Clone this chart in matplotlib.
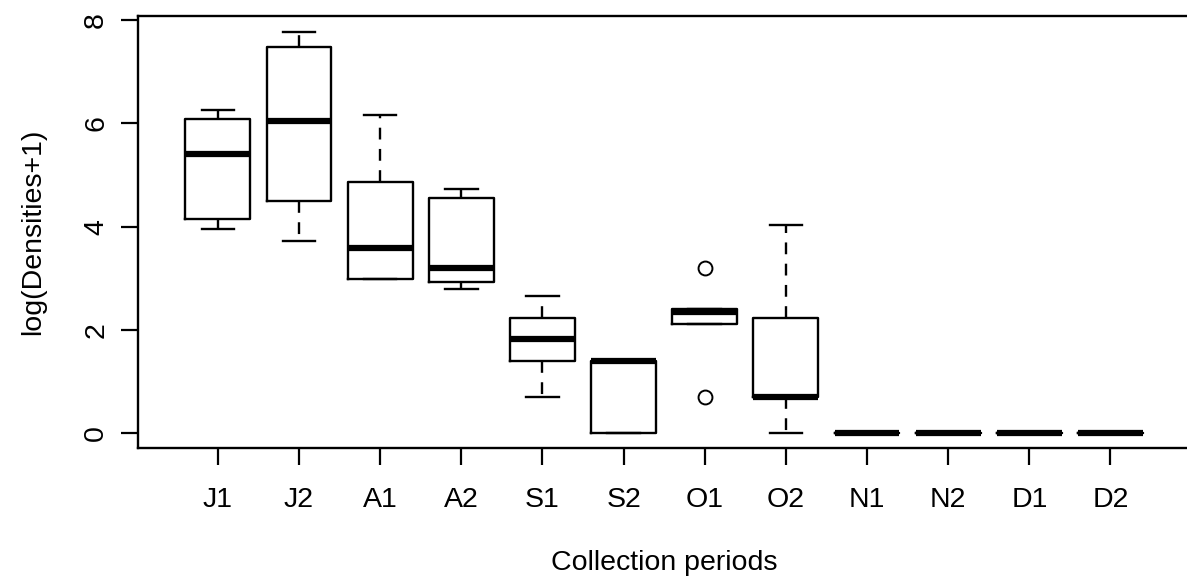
import matplotlib
matplotlib.use("Agg")
import matplotlib.pyplot as plt

periods = ["J1", "J2", "A1", "A2", "S1", "S2", "O1", "O2", "N1", "N2", "D1", "D2"]
whislo = [3.96, 3.73, 2.99, 2.79, 0.70, 0.00, 2.11, 0.00, 0, 0, 0, 0]
q1 = [4.15, 4.49, 2.99, 2.93, 1.40, 0.00, 2.11, 0.69, 0, 0, 0, 0]
med = [5.41, 6.05, 3.59, 3.20, 1.82, 1.39, 2.34, 0.69, 0, 0, 0, 0]
q3 = [6.09, 7.48, 4.87, 4.55, 2.23, 1.39, 2.40, 2.22, 0, 0, 0, 0]
whishi = [6.26, 7.77, 6.16, 4.72, 2.66, 1.39, 2.40, 4.03, 0, 0, 0, 0]
outliers = [[], [], [], [], [], [], [3.20, 0.70], [], [], [], [], []]

plt.rcParams["font.family"] = ["Liberation Sans", "DejaVu Sans"]

stats = []
for i, name in enumerate(periods):
    stats.append({
        "label": name, "whislo": whislo[i], "q1": q1[i], "med": med[i],
        "q3": q3[i], "whishi": whishi[i], "fliers": outliers[i],
    })

fig = plt.figure(figsize=(11.87, 5.77), dpi=100)
ax = fig.add_axes([138.3 / 1187, 1 - 448 / 577, (1190 - 138.3) / 1187, (448 - 16) / 577])

ax.bxp(
    stats, positions=range(1, len(periods) + 1), widths=0.8,
    boxprops=dict(color="black", linewidth=1.7),
    medianprops=dict(color="black", linewidth=4.5, solid_capstyle="butt"),
    whiskerprops=dict(color="black", linewidth=1.7, linestyle=(0, (5, 4))),
    capprops=dict(color="black", linewidth=1.7),
    capwidths=0.4,
    flierprops=dict(marker="o", markerfacecolor="none", markeredgecolor="black",
                    markersize=10, markeredgewidth=1.4),
)

ax.set_xlim(0.02, 12.98)
ax.set_ylim(-0.29, 8.08)
ax.set_yticks([0, 2, 4, 6, 8])
ax.set_yticklabels(["0", "2", "4", "6", "8"], rotation=90, va="center")
ax.set_xticks(range(1, len(periods) + 1))
ax.set_xticklabels(periods)
ax.tick_params(axis="both", length=12, width=1.6, labelsize=20.5, color="black")
ax.tick_params(axis="x", pad=16)
ax.tick_params(axis="y", pad=9)
for side in ["left", "bottom", "top", "right"]:
    ax.spines[side].set_linewidth(1.7)

ax.set_xlabel("Collection periods", fontsize=20.5, labelpad=27)
ax.set_ylabel("log(Densities+1)", fontsize=20.5, labelpad=27)

fig.savefig("out.png", dpi=100)
